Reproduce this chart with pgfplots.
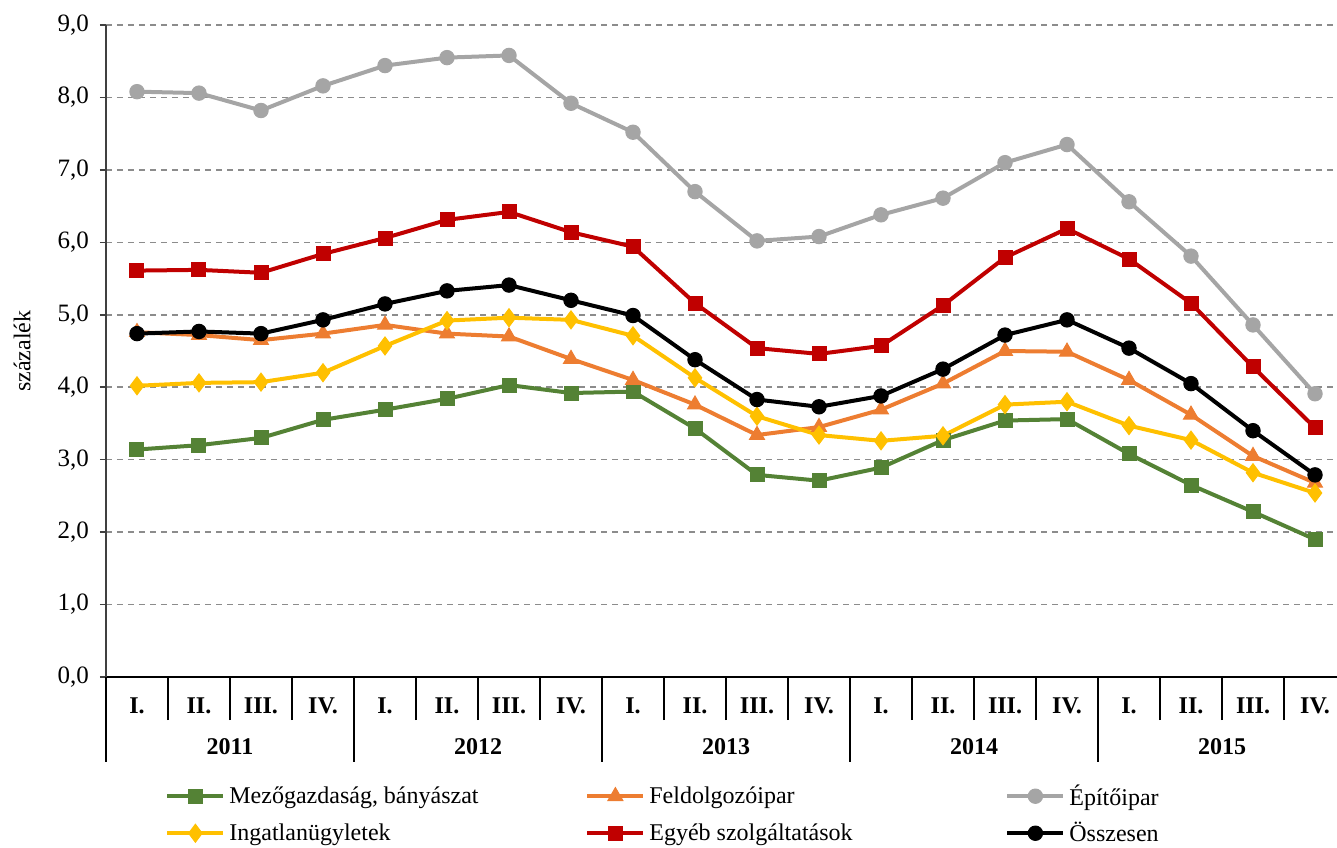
\documentclass[border=0pt]{standalone}
\usepackage{pgfplots}
\pgfplotsset{compat=1.18}
\usepackage{fontspec}
\setmainfont{Liberation Serif}

\definecolor{cgreen}{HTML}{548235}
\definecolor{corange}{HTML}{ED7D31}
\definecolor{cgray}{HTML}{A5A5A5}
\definecolor{cyellow}{HTML}{FFC000}
\definecolor{cred}{HTML}{C00000}

\pgfplotsset{
  ser/.style={line width=2pt, mark options={solid, line width=0.5pt}},
}

\begin{document}
\begin{tikzpicture}
\begin{axis}[
    scale only axis,
    width=620pt, height=326pt,
    xmin=0.5, xmax=20.5,
    ymin=0, ymax=9,
    ytick={0,1,...,9},
    axis x line=bottom, axis y line=left,
    axis line style={-, line width=0.8pt},
    x axis line style={black},
    y axis line style={black!75},
    ymajorgrids,
    grid style={dashed, dash pattern=on 3pt off 2.5pt, gray!90, line width=0.8pt},
    tick align=outside,
    ytick style={black!75, line width=0.8pt},
    major tick length=3pt,
    xtick={1,...,20},
    xticklabels={I.,II.,III.,IV.,I.,II.,III.,IV.,I.,II.,III.,IV.,I.,II.,III.,IV.,I.,II.,III.,IV.},
    xtick style={draw=none},
    xticklabel style={font=\fontsize{12}{14}\selectfont\bfseries, yshift=-4pt},
    extra x ticks={0.5,1.5,...,20.5},
    extra x tick labels={},
    extra x tick style={grid=none, major tick length=21.5pt, tick align=outside,
        xtick style={draw=black, line width=0.8pt}},
    yticklabel style={font=\fontsize{12.5}{14}\selectfont, xshift=-2pt},
    /pgf/number format/.cd, fixed, fixed zerofill, precision=1, use comma, assume math mode=true,
    /pgfplots/.cd,
    ylabel={százalék},
    ylabel style={font=\fontsize{12}{14}\selectfont, at={(axis description cs:-0.0677,0.5)}, anchor=center},
    clip=false,
    legend columns=3,
    legend cell align=left,
    legend style={draw=none, fill=none, at={(0,0)}, anchor=north west,
        xshift=26.5pt, yshift=-49.5pt,
        font=\fontsize{12}{14}\selectfont,
        row sep=3pt,
        /tikz/every even column/.append style={column sep=0pt}},
    legend image code/.code={
        \draw[mark repeat=2, mark phase=2] plot coordinates {(0pt,0pt) (14pt,0pt) (28pt,0pt)};
    },
]

\addplot[ser, cgreen, mark=square*, mark size=3.5pt] coordinates {
 (1,3.14) (2,3.20) (3,3.30) (4,3.55) (5,3.69) (6,3.84) (7,4.03) (8,3.92) (9,3.94) (10,3.43)
 (11,2.79) (12,2.71) (13,2.89) (14,3.27) (15,3.54) (16,3.56) (17,3.08) (18,2.65) (19,2.28) (20,1.90)
};
\addlegendentry{\makebox[176pt][l]{Mezőgazdaság, bányászat}}

\addplot[ser, corange, mark=triangle*, mark size=4.3pt] coordinates {
 (1,4.76) (2,4.72) (3,4.65) (4,4.74) (5,4.86) (6,4.74) (7,4.70) (8,4.39) (9,4.10) (10,3.76)
 (11,3.34) (12,3.45) (13,3.69) (14,4.05) (15,4.50) (16,4.49) (17,4.10) (18,3.62) (19,3.05) (20,2.68)
};
\addlegendentry{\makebox[176pt][l]{Feldolgozóipar}}

\addplot[ser, cgray, mark=*, mark size=3.6pt] coordinates {
 (1,8.08) (2,8.06) (3,7.82) (4,8.16) (5,8.44) (6,8.55) (7,8.58) (8,7.92) (9,7.52) (10,6.70)
 (11,6.02) (12,6.08) (13,6.38) (14,6.61) (15,7.10) (16,7.35) (17,6.56) (18,5.81) (19,4.86) (20,3.91)
};
\addlegendentry{Építőipar}

\addplot[ser, cyellow, mark=diamond*, mark size=4.5pt] coordinates {
 (1,4.02) (2,4.06) (3,4.07) (4,4.20) (5,4.57) (6,4.92) (7,4.96) (8,4.93) (9,4.71) (10,4.13)
 (11,3.60) (12,3.34) (13,3.26) (14,3.33) (15,3.76) (16,3.80) (17,3.47) (18,3.27) (19,2.82) (20,2.54)
};
\addlegendentry{\makebox[176pt][l]{Ingatlanügyletek}}

\addplot[ser, cred, mark=square*, mark size=3.5pt] coordinates {
 (1,5.61) (2,5.62) (3,5.58) (4,5.84) (5,6.06) (6,6.31) (7,6.42) (8,6.14) (9,5.94) (10,5.16)
 (11,4.54) (12,4.46) (13,4.57) (14,5.13) (15,5.79) (16,6.19) (17,5.77) (18,5.16) (19,4.28) (20,3.44)
};
\addlegendentry{\makebox[176pt][l]{Egyéb szolgáltatások}}

\addplot[ser, black, mark=*, mark size=3.6pt] coordinates {
 (1,4.74) (2,4.77) (3,4.74) (4,4.93) (5,5.15) (6,5.33) (7,5.41) (8,5.20) (9,4.99) (10,4.38)
 (11,3.83) (12,3.73) (13,3.88) (14,4.25) (15,4.72) (16,4.93) (17,4.54) (18,4.05) (19,3.40) (20,2.79)
};
\addlegendentry{Összesen}

% year separators and labels
\pgfplotsinvokeforeach{0.5,4.5,8.5,12.5,16.5,20.5}{
  \draw[black, line width=0.8pt] (axis cs:#1,0) -- ++(0pt,-42.5pt);
}
\node[font=\fontsize{12}{14}\selectfont\bfseries] at (axis cs:2.5,0) [yshift=-35pt] {2011};
\node[font=\fontsize{12}{14}\selectfont\bfseries] at (axis cs:6.5,0) [yshift=-35pt] {2012};
\node[font=\fontsize{12}{14}\selectfont\bfseries] at (axis cs:10.5,0) [yshift=-35pt] {2013};
\node[font=\fontsize{12}{14}\selectfont\bfseries] at (axis cs:14.5,0) [yshift=-35pt] {2014};
\node[font=\fontsize{12}{14}\selectfont\bfseries] at (axis cs:18.5,0) [yshift=-35pt] {2015};
\end{axis}
\pgfresetboundingbox
\path[use as bounding box] (-53pt,-85pt) rectangle (615.5pt,338.5pt);
\end{tikzpicture}
\end{document}
